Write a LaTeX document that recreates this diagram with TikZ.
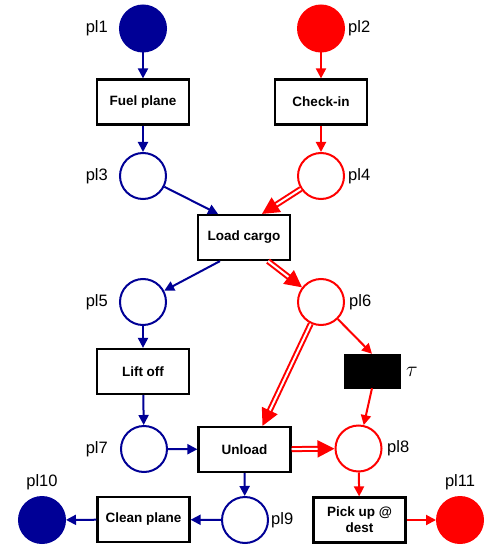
\documentclass[tikz,border=0pt]{standalone}
\usepackage{graphicx}
\usepackage{fontspec}
\setmainfont{Liberation Sans}
\usetikzlibrary{arrows.meta,calc}
\definecolor{pnblue}{RGB}{0,0,150}
\definecolor{pnred}{RGB}{255,0,0}
\begin{document}
\begin{tikzpicture}[x=1pt,y=-1pt,
 trans/.style={draw=black, line width=2.2pt, fill=white, minimum width=92pt, minimum height=45pt, inner sep=0pt, font=\bfseries\fontsize{13.5}{16}\selectfont, align=center},
 place/.style={circle, line width=2pt, minimum size=46pt, inner sep=0pt},
 bplace/.style={place, draw=pnblue, fill=white},
 rplace/.style={place, draw=pnred, fill=white},
 bfull/.style={place, draw=pnblue, fill=pnblue},
 rfull/.style={place, draw=pnred, fill=pnred},
 silent/.style={draw=black, fill=black, minimum width=56pt, minimum height=34pt, inner sep=0pt},
 lbl/.style={font=\fontsize{16.5}{18}\selectfont, inner sep=0pt},
 barc/.style={draw=pnblue, line width=2pt, -{Triangle[length=10pt,width=10pt]}},
 rarc/.style={draw=pnred, line width=2pt, -{Triangle[length=10pt,width=10pt]}},
 rdarc/.style={draw=pnred, line width=2pt, double=white, double distance=2pt, -{Triangle[length=17pt,width=17pt]}},
]
\useasboundingbox (0,0) rectangle (487,548);
% places
\node[bfull] (pl1) at (143,28.5) {};
\node[rfull] (pl2) at (321,28.5) {};
\node[bplace] (pl3) at (143,176) {};
\node[rplace] (pl4) at (321,176) {};
\node[bplace] (pl5) at (143,302) {};
\node[rplace] (pl6) at (321,302) {};
\node[bplace] (pl7) at (144,449) {};
\node[rplace] (pl8) at (358.5,448.5) {};
\node[bplace] (pl9) at (245,520) {};
\node[bfull] (pl10) at (42,520) {};
\node[rfull] (pl11) at (460,520) {};
% transitions
\node[trans] (fuel) at (143,102) {Fuel plane};
\node[trans] (checkin) at (321,102) {Check-in};
\node[trans] (lc) at (244,237.5) {Load cargo};
\node[trans] (lift) at (143,371.5) {Lift off};
\node[silent] (tau) at (372,371) {};
\node[trans] (unload) at (244.5,449.5) {Unload};
\node[trans] (clean) at (143.5,519.5) {Clean plane};
\node[trans] (pick) at (359.5,520) {Pick up @\\dest};
% labels
\node[lbl,anchor=east] (t1) at (108,28.5) {pl1};
\node[lbl,anchor=west] (t2) at (348,28.5) {pl2};
\node[lbl,anchor=east] (t3) at (108,176) {pl3};
\node[lbl,anchor=west] (t4) at (348,176) {pl4};
\node[lbl,anchor=east] (t5) at (108,302) {pl5};
\node[lbl,anchor=west] (t6) at (349,302) {pl6};
\node[lbl,anchor=east] (t7) at (108,449) {pl7};
\node[lbl,anchor=west] (t8) at (387,448.5) {pl8};
\node[lbl,anchor=west] (t9) at (271,520) {pl9};
\node[lbl] (t10) at (42,482) {pl10};
\node[lbl] (t11) at (460,482) {pl11};
\node[lbl] (ttau) at (412,372) {\scalebox{1.25}{$\tau$}};
% arcs
\draw[barc] (pl1) -- (fuel);
\draw[barc] (fuel) -- (pl3);
\draw[barc] (pl3) -- ([xshift=-26pt]lc.north);
\draw[rarc] (pl2) -- (checkin);
\draw[rarc] (checkin) -- (pl4);
\draw[rdarc] (pl4) -- ([xshift=18pt]lc.north);
\draw[barc] ([xshift=-24pt]lc.south) -- (pl5);
\draw[rdarc] ([xshift=24pt]lc.south) -- (pl6);
\draw[barc] (pl5) -- (lift);
\draw[barc] (lift) -- (pl7);
\draw[barc] (pl7) -- (unload);
\draw[rdarc] (pl6) -- ([xshift=18pt]unload.north);
\draw[rarc] (pl6) -- (tau.north);
\draw[rarc] (tau.south) -- (pl8);
\draw[rdarc] (unload) -- (pl8);
\draw[barc] (unload.south) -- (pl9);
\draw[barc] (pl9) -- (clean);
\draw[barc] (clean) -- (pl10);
\draw[rarc] (pl8) -- (pick);
\draw[rarc] (pick) -- (pl11);
\end{tikzpicture}
\end{document}
